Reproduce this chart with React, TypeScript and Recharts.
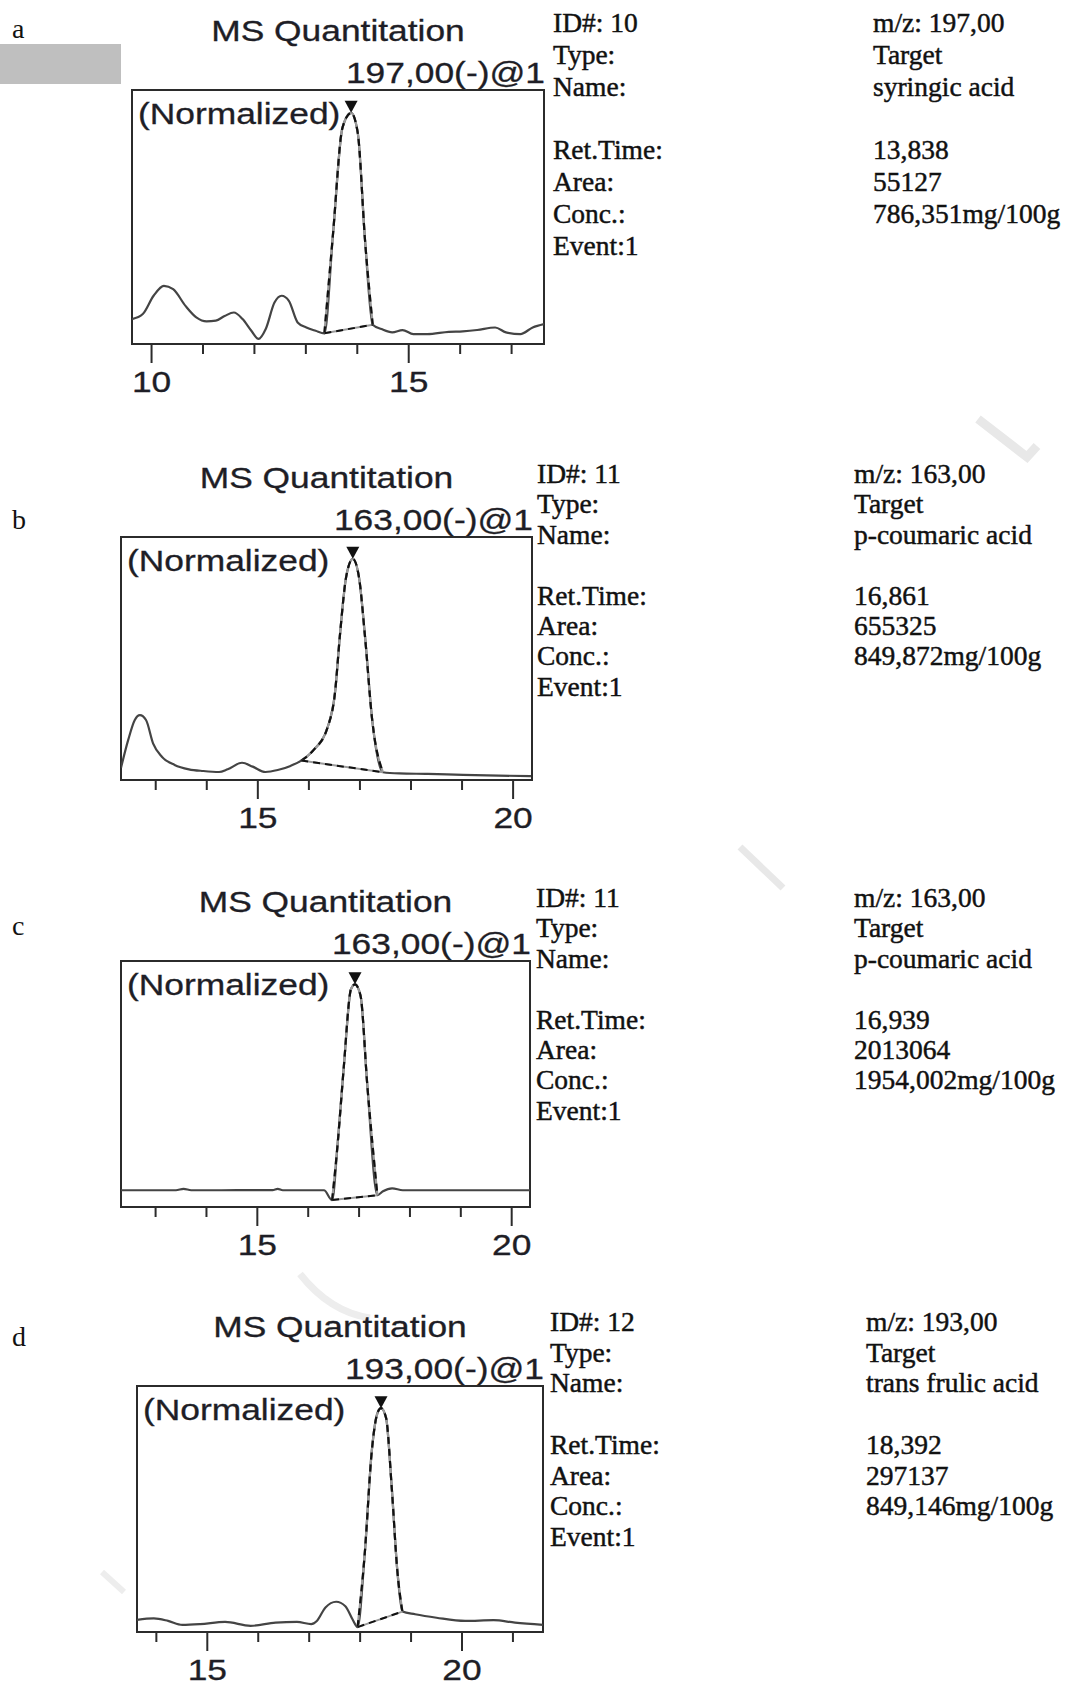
import React from "react";
import { ComposedChart, Line, XAxis, YAxis, ReferenceArea, ReferenceDot } from "recharts";

// ---- panel a : syringic acid, m/z 197 ----
const aTimes = [9.62, 9.83, 10.04, 10.24, 10.42, 10.66, 10.87, 11.07, 11.25, 11.42, 11.6, 11.77, 11.94, 12.08, 12.22, 12.39, 12.53, 12.67, 12.84, 13.01, 13.19, 13.36, 13.53, 13.71, 13.88, 14.01, 14.15, 14.3, 14.47, 14.68, 14.88, 15.09, 15.36, 15.78, 16.05, 16.33, 16.68, 16.89, 17.17, 17.41, 17.63];
const aSignal = [9.8, 11.8, 19, 22.9, 21.6, 15, 10.5, 8.9, 9.2, 11, 12.4, 9.8, 5.2, 2, 5.9, 16.3, 19, 17, 8.5, 6.5, 5.2, 4.2, 43.8, 85, 91, 83, 41, 7.6, 5.9, 4.6, 5.5, 3.9, 3.9, 4.8, 5, 5.5, 6.5, 4.6, 3.9, 6.5, 7.8];
const aBaseTimes = [13.36, 14.3];
const aBaseSignal = [4.2, 7.6];
const aApex = [13.88, 91];
const aTicks = [10, 11, 12, 13, 14, 15, 16, 17];
const aRange = [9.62, 17.63];

// ---- panel b : p-coumaric acid, m/z 163 ----
const bTimes = [12.32, 12.46, 12.59, 12.69, 12.81, 12.95, 13.12, 13.37, 13.65, 13.93, 14.24, 14.41, 14.69, 14.9, 15.15, 15.39, 15.64, 15.85, 16.09, 16.37, 16.51, 16.61, 16.73, 16.86, 16.98, 17.1, 17.24, 17.45, 17.77, 18.33, 19.02, 19.72, 20.35];
const bSignal = [5, 16.4, 24.7, 26.7, 24.7, 15, 9.6, 6.2, 4.4, 3.7, 3.3, 4.4, 7.1, 5.5, 3.3, 4.1, 5.8, 8.0, 12.3, 21.9, 35.6, 60, 83.6, 91, 83.6, 58.9, 24.7, 3.2, 2.7, 2.5, 2.1, 1.8, 1.6];
const bBaseTimes = [15.85, 17.45];
const bBaseSignal = [8.0, 3.2];
const bApex = [16.86, 91];
const bTicks = [13, 14, 15, 16, 17, 18, 19, 20];
const bRange = [12.32, 20.37];

// ---- panel c : p-coumaric acid, m/z 163 ----
const cTimes = [12.32, 12.9, 13.4, 13.55, 13.7, 14.3, 14.9, 15.3, 15.4, 15.5, 16.0, 16.31, 16.47, 16.58, 16.7, 16.84, 16.92, 17.03, 17.16, 17.36, 17.47, 17.65, 17.86, 18.5, 19.05, 19.7, 20.36];
const cSignal = [6.8, 6.8, 6.8, 7.4, 6.8, 6.8, 6.9, 6.9, 7.4, 6.8, 6.8, 6.8, 2.8, 26, 57, 88.5, 90.5, 85.8, 50, 4.8, 6.4, 7.6, 6.8, 6.8, 6.8, 6.8, 6.8];
const cBaseTimes = [16.47, 17.36];
const cBaseSignal = [2.8, 4.8];
const cApex = [16.92, 90.5];
const cTicks = [13, 14, 15, 16, 17, 18, 19, 20];
const cRange = [12.32, 20.36];

// ---- panel d : trans ferulic acid, m/z 193 ----
const dTimes = [13.62, 13.95, 14.23, 14.51, 14.86, 15.35, 15.85, 16.34, 16.76, 17.04, 17.15, 17.32, 17.53, 17.71, 17.85, 17.95, 18.09, 18.23, 18.34, 18.41, 18.51, 18.62, 18.73, 18.83, 19.08, 19.5, 20.06, 20.62, 21.04, 21.59];
const dSignal = [4.9, 5.5, 4.5, 2.9, 3.2, 4.1, 2.5, 3.8, 4.1, 3.2, 4.5, 10, 12.3, 10.5, 5.2, 2, 31.6, 73.8, 89, 91, 87, 58.9, 25, 8.3, 7.2, 5.8, 4.5, 4.8, 3.8, 2.9];
const dBaseTimes = [17.95, 18.83];
const dBaseSignal = [2, 8.3];
const dApex = [18.41, 91];
const dTicks = [14, 15, 16, 17, 18, 19, 20, 21];
const dRange = [13.62, 21.59];

// ---- text blocks ----
const panelLetters = ["a", "b", "c", "d"];
const subtitles = ["197,00(-)@1", "163,00(-)@1", "163,00(-)@1", "193,00(-)@1"];
const idNumbers = ["10", "11", "11", "12"];
const mzValues = ["197,00", "163,00", "163,00", "193,00"];
const compoundNames = ["syringic acid", "p-coumaric acid", "p-coumaric acid", "trans frulic acid"];
const retTimes = ["13,838", "16,861", "16,939", "18,392"];
const areas = ["55127", "655325", "2013064", "297137"];
const concentrations = ["786,351mg/100g", "849,872mg/100g", "1954,002mg/100g", "849,146mg/100g"];

const SANS = '"Liberation Sans", Arial, sans-serif';
const SERIF = '"Liberation Serif", "Times New Roman", serif';
const INK = "#1e1e26";
const STRETCH = 1.22;
const PAD = 2;
const AXIS_H = 56;

const toPoints = (ts: number[], ys: number[]) => ts.map((t, i) => ({ t, y: ys[i] }));

const PANELS = [
  { box: { x: 132, y: 90, w: 412, h: 254 }, infoX: 553, valueX: 873, infoY: 32, gap: 31.8, letterY: 38, range: aRange, ticks: aTicks, times: aTimes, signal: aSignal, baseT: aBaseTimes, baseY: aBaseSignal, apex: aApex },
  { box: { x: 121, y: 537, w: 411, h: 243 }, infoX: 537, valueX: 854, infoY: 483, gap: 30.4, letterY: 529, range: bRange, ticks: bTicks, times: bTimes, signal: bSignal, baseT: bBaseTimes, baseY: bBaseSignal, apex: bApex },
  { box: { x: 121, y: 961, w: 409, h: 246 }, infoX: 536, valueX: 854, infoY: 907, gap: 30.4, letterY: 935, range: cRange, ticks: cTicks, times: cTimes, signal: cSignal, baseT: cBaseTimes, baseY: cBaseSignal, apex: cApex },
  { box: { x: 137, y: 1386, w: 406, h: 246 }, infoX: 550, valueX: 866, infoY: 1331, gap: 30.7, letterY: 1346, range: dRange, ticks: dTicks, times: dTimes, signal: dSignal, baseT: dBaseTimes, baseY: dBaseSignal, apex: dApex },
];

function StretchText({ x, y, anchor = "start", children }: any) {
  return (
    <text
      transform={`translate(${x},${y}) scale(${STRETCH},1)`}
      textAnchor={anchor}
      fontSize={29}
      fontFamily={SANS}
      fill={INK}
      stroke={INK}
      strokeWidth={0.3}
    >
      {children}
    </text>
  );
}

function SerifText({ x, y, children }: any) {
  return (
    <text x={x} y={y} fontSize={27.5} fontFamily={SERIF} fill="#111" stroke="#111" strokeWidth={0.45}>
      {children}
    </text>
  );
}

function TickMark(props: any) {
  const { x, y, payload } = props;
  const major = payload.value % 5 === 0;
  return (
    <g>
      <line x1={x} x2={x} y1={y} y2={y + (major ? 19 : 10)} stroke="#2b2b2b" strokeWidth={2} />
      {major && <StretchText x={x} y={y + 48} anchor="middle">{payload.value}</StretchText>}
    </g>
  );
}

const ApexMarker = (p: any) => {
  const { cx, cy } = p;
  return <path d={`M${cx - 6.5},${cy - 12}L${cx + 6.5},${cy - 12}L${cx},${cy}Z`} fill="#111" />;
};

function Chromatogram({ panel }: any) {
  const { box, range, ticks, times, signal, baseT, baseY, apex } = panel;
  const trace = toPoints(times, signal);
  const baseline = toPoints(baseT, baseY);
  const peak = trace.filter((p) => p.t >= baseT[0] && p.t <= baseT[1]);

  return (
    <div style={{ position: "absolute", left: box.x - PAD, top: box.y - PAD }}>
      <ComposedChart
        width={box.w + 2 * PAD}
        height={box.h + PAD + AXIS_H}
        margin={{ top: PAD, right: PAD, bottom: 0, left: PAD }}
      >
        <XAxis
          type="number"
          dataKey="t"
          domain={range}
          ticks={ticks}
          allowDataOverflow
          interval={0}
          tickSize={0}
          tickMargin={0}
          tickLine={false}
          axisLine={false}
          height={AXIS_H}
          tick={(p: any) => <TickMark {...p} />}
        />
        <YAxis type="number" domain={[0, 100]} hide allowDataOverflow />
        <ReferenceArea
          x1={range[0]}
          x2={range[1]}
          y1={0}
          y2={100}
          fill="none"
          fillOpacity={0}
          stroke="#2b2b2b"
          strokeWidth={2}
        />
        <Line data={trace} dataKey="y" type="monotone" stroke="#444" strokeWidth={2.2} dot={false} isAnimationActive={false} />
        <Line data={peak} dataKey="y" type="monotone" stroke="#9a9a9a" strokeWidth={2.2} dot={false} isAnimationActive={false} />
        <Line data={peak} dataKey="y" type="monotone" stroke="#111" strokeWidth={2.2} strokeDasharray="7 5" dot={false} isAnimationActive={false} />
        <Line data={baseline} dataKey="y" type="linear" stroke="#9a9a9a" strokeWidth={2} dot={false} isAnimationActive={false} />
        <Line data={baseline} dataKey="y" type="linear" stroke="#111" strokeWidth={2} strokeDasharray="7 5" dot={false} isAnimationActive={false} />
        <ReferenceDot x={apex[0]} y={apex[1]} shape={ApexMarker} />
      </ComposedChart>
    </div>
  );
}

export default function App() {
  return (
    <div style={{ position: "absolute", left: 0, top: 0, width: 1074, height: 1685, background: "#fff", overflow: "hidden" }}>
      <svg width={1074} height={1685} style={{ position: "absolute", left: 0, top: 0 }}>
        {/* faint watermark strokes */}
        <polyline points="978,419 1027,457 1037,446" fill="none" stroke="#e8e8e8" strokeWidth={9} />
        <polyline points="740,847 783,888" fill="none" stroke="#e8e8e8" strokeWidth={7} />
        <path d="M300,1274 Q330,1312 370,1318" fill="none" stroke="#ededed" strokeWidth={7} />
        <polyline points="102,1572 124,1592" fill="none" stroke="#ededed" strokeWidth={6} />
        <rect x={0} y={44} width={121} height={40} fill="#bfbfbf" />
        {PANELS.map((p, i) => {
          const { box } = p;
          const leftLines = [
            [0, `ID#: ${idNumbers[i]}`],
            [1, "Type:"],
            [2, "Name:"],
            [4, "Ret.Time:"],
            [5, "Area:"],
            [6, "Conc.:"],
            [7, "Event:1"],
          ];
          const rightLines = [
            [0, `m/z: ${mzValues[i]}`],
            [1, "Target"],
            [2, compoundNames[i]],
            [4, retTimes[i]],
            [5, areas[i]],
            [6, concentrations[i]],
          ];
          return (
            <g key={i}>
              <text x={12} y={p.letterY} fontSize={28} fontFamily={SERIF} fill="#111">{panelLetters[i]}</text>
              <StretchText x={box.x + box.w / 2} y={box.y - 49} anchor="middle">MS Quantitation</StretchText>
              <StretchText x={box.x + box.w + 1} y={box.y - 7} anchor="end">{subtitles[i]}</StretchText>
              <StretchText x={box.x + 6} y={box.y + 34}>(Normalized)</StretchText>
              {leftLines.map(([row, label]) => (
                <SerifText key={`l${row}`} x={p.infoX} y={p.infoY + (row as number) * p.gap}>{label}</SerifText>
              ))}
              {rightLines.map(([row, label]) => (
                <SerifText key={`r${row}`} x={p.valueX} y={p.infoY + (row as number) * p.gap}>{label}</SerifText>
              ))}
            </g>
          );
        })}
      </svg>
      {PANELS.map((p, i) => (
        <Chromatogram key={i} panel={p} />
      ))}
    </div>
  );
}
